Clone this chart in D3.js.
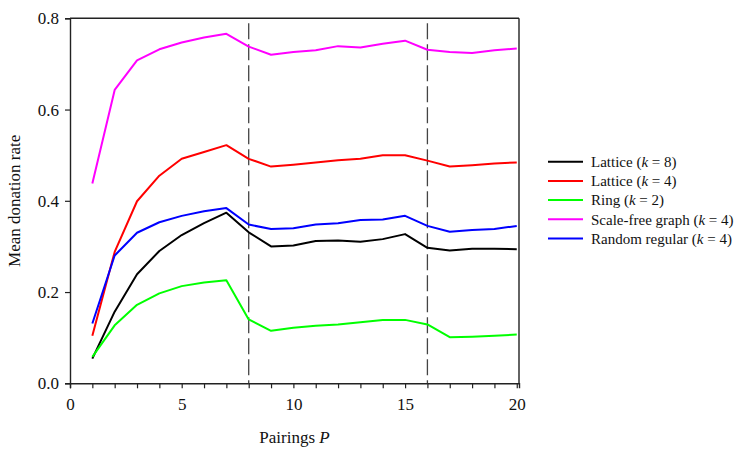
<!DOCTYPE html>
<html><head><meta charset="utf-8">
<script src="https://cdn.jsdelivr.net/npm/d3@7"></script>
<style>body{margin:0;background:#fff}svg{display:block}svg text{font-family:"Liberation Serif","Times New Roman",Times,serif}</style>
</head><body><svg id="c" width="742" height="459"></svg>
<script>
const pairings = d3.range(1, 21);
const seriesNames = ["Lattice (k = 8)", "Lattice (k = 4)", "Ring (k = 2)", "Scale-free graph (k = 4)", "Random regular (k = 4)"];
const seriesColors = ["#000000", "#ff0000", "#00ff00", "#ff00ff", "#0000ff"];
const lattice8 = [0.054,0.157,0.239,0.290,0.325,0.351,0.374,0.331,0.300,0.302,0.312,0.313,0.310,0.316,0.327,0.297,0.291,0.295,0.295,0.294];
const lattice4 = [0.104,0.288,0.399,0.455,0.492,0.507,0.522,0.492,0.475,0.479,0.484,0.489,0.492,0.500,0.500,0.488,0.475,0.478,0.482,0.484];
const ring2 = [0.058,0.127,0.172,0.197,0.213,0.221,0.226,0.140,0.115,0.122,0.126,0.129,0.134,0.139,0.139,0.129,0.101,0.102,0.104,0.107];
const scaleFree4 = [0.438,0.643,0.708,0.732,0.747,0.758,0.766,0.738,0.720,0.726,0.730,0.739,0.736,0.744,0.751,0.731,0.726,0.724,0.730,0.734];
const randomReg4 = [0.131,0.280,0.330,0.353,0.367,0.377,0.384,0.348,0.338,0.340,0.348,0.351,0.358,0.359,0.367,0.345,0.332,0.336,0.338,0.345];
const seriesValues = [lattice8, lattice4, ring2, scaleFree4, randomReg4];
const xTicks = [0, 5, 10, 15, 20];
const yTicks = [0, 0.2, 0.4, 0.6, 0.8];
const dashedAt = [8, 16];

const svg = d3.select("#c");
const L = 70, R = 519, T = 18.3, B = 383.3;
const x = d3.scaleLinear().domain([0, 20.1]).range([L, R]);
const y = d3.scaleLinear().domain([0, 0.8]).range([B, T]);
const axisColor = "#222";

svg.append("line").attr("x1", L).attr("x2", R).attr("y1", T).attr("y2", T).attr("stroke", axisColor).attr("stroke-width", 1.4);
svg.append("line").attr("x1", R).attr("x2", R).attr("y1", T).attr("y2", B).attr("stroke", axisColor).attr("stroke-width", 1.4);

const gx = svg.append("g").attr("transform", `translate(0,${B})`)
  .call(d3.axisBottom(x).tickValues(d3.range(0, 21)).tickSize(5).tickFormat(d => xTicks.includes(d) ? d : ""));
gx.attr("font-family", null);
gx.select(".domain").attr("stroke", axisColor).attr("stroke-width", 1.4);
gx.selectAll(".tick line").attr("stroke", axisColor).attr("stroke-width", 1.2);
gx.selectAll(".tick text").style("font-size", "17px").attr("fill", "#111").attr("dy", "1.1em");

const gy = svg.append("g").attr("transform", `translate(${L},0)`)
  .call(d3.axisLeft(y).tickValues(yTicks).tickSize(5).tickFormat(d3.format(".1f")));
gy.attr("font-family", null);
gy.select(".domain").attr("stroke", axisColor).attr("stroke-width", 1.4);
gy.selectAll(".tick line").attr("stroke", axisColor).attr("stroke-width", 1.2);
gy.selectAll(".tick text").style("font-size", "17px").attr("fill", "#111").attr("x", -11);

svg.selectAll(".dash").data(dashedAt).enter().append("line")
  .attr("x1", d => x(d)).attr("x2", d => x(d)).attr("y1", T + 5).attr("y2", B)
  .attr("stroke", "#444").attr("stroke-width", 1.3).attr("stroke-dasharray", "16,5");

const line = d3.line().x((d, i) => x(pairings[i])).y(d => y(d));
seriesValues.forEach((vals, k) => {
  svg.append("path").attr("d", line(vals)).attr("fill", "none")
    .attr("stroke", seriesColors[k]).attr("stroke-width", 2).attr("stroke-linejoin", "round");
});

svg.append("text").attr("x", (L + R) / 2).attr("y", 443).attr("text-anchor", "middle")
  .style("font-size", "17px").attr("fill", "#111")
  .html('Pairings <tspan font-style="italic">P</tspan>');
svg.append("text").attr("transform", `translate(20,${(T + B) / 2}) rotate(-90)`).attr("text-anchor", "middle")
  .style("font-size", "17px").attr("fill", "#111").text("Mean donation rate");

const legendLabels = [["Lattice (", "k", " = 8)"], ["Lattice (", "k", " = 4)"], ["Ring (", "k", " = 2)"], ["Scale-free graph (", "k", " = 4)"], ["Random regular (", "k", " = 4)"]];
const lg = svg.append("g");
legendLabels.forEach((parts, i) => {
  const yy = 161.7 + i * 19.2;
  lg.append("line").attr("x1", 548).attr("x2", 583).attr("y1", yy).attr("y2", yy)
    .attr("stroke", seriesColors[i]).attr("stroke-width", 2);
  const t = lg.append("text").attr("x", 591).attr("y", yy + 5.3)
    .style("font-size", "15px").attr("fill", "#111");
  t.append("tspan").text(parts[0]);
  t.append("tspan").attr("font-style", "italic").text(parts[1]);
  t.append("tspan").text(parts[2]);
});
</script></body></html>
